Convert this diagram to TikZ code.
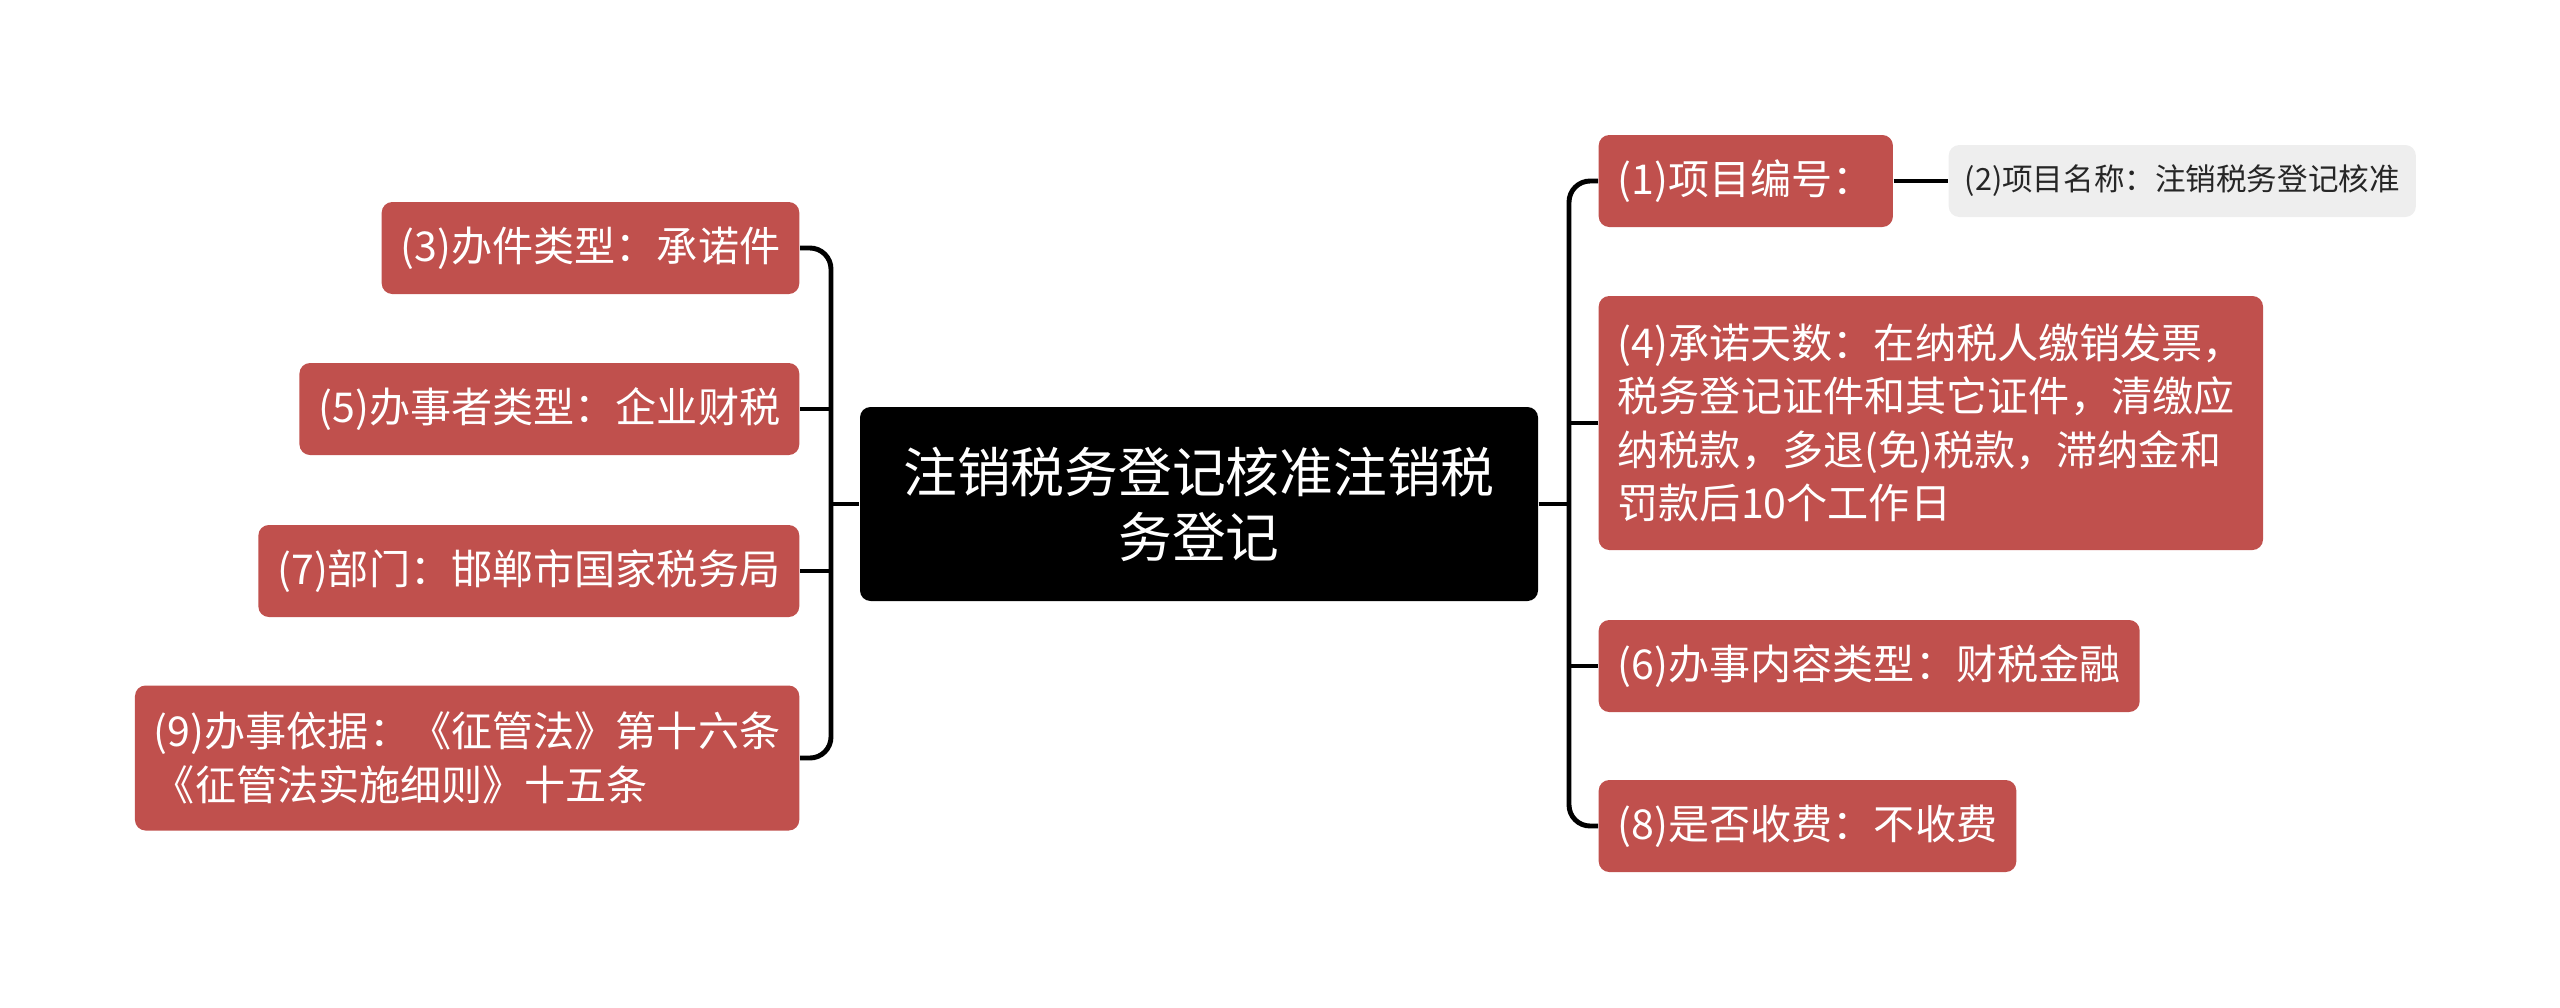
\documentclass[tikz,border=0pt]{standalone}
\usepackage{fontspec}
\setmainfont{Noto Sans CJK SC}
\usepackage{tikz}
\usetikzlibrary{positioning}
\definecolor{topicred}{HTML}{C0504D}
\definecolor{subgrey}{HTML}{EEEEEE}
\tikzset{
    rootnode/.style={
        rectangle, rounded corners=3pt, fill=black, text=white,
        minimum width=6.78cm, minimum height=1.94cm, align=center,
        font=\fontsize{15.3}{18.5}\selectfont
    },
    topic/.style={
        rectangle, rounded corners=3pt, fill=topicred, text=white,
        inner xsep=0.19cm, inner ysep=0pt, minimum height=0.92cm,
        align=left, font=\fontsize{11.7}{15.2}\selectfont
    },
    subtopic/.style={
        rectangle, rounded corners=3pt, fill=subgrey, text=black!85,
        inner xsep=0.16cm, inner ysep=0pt, minimum height=0.72cm,
        font=\fontsize{8.7}{11}\selectfont
    },
    link/.style={
        line width=1.4pt, rounded corners=6pt
    }
}

\begin{document}
\begin{tikzpicture}
    \useasboundingbox (0,0) rectangle (25.6,-10.07);
    % Nodes
    \node[rootnode] (root) at (11.99,-5.04) {注销税务登记核准注销税\\务登记};
    % Left side
    \node[topic, anchor=east] (n3) at (8.00,-2.48) {(3)办件类型：承诺件};
    \node[topic, anchor=east] (n5) at (8.00,-4.09) {(5)办事者类型：企业财税};
    \node[topic, anchor=east] (n7) at (8.00,-5.71) {(7)部门：邯郸市国家税务局};
    \node[topic, anchor=east, minimum height=1.45cm] (n9) at (8.00,-7.58)
        {(9)办事依据：《征管法》第十六条\\《征管法实施细则》十五条};
    % Right side
    \node[topic, anchor=west] (n1) at (15.98,-1.81) {(1)项目编号：};
    \node[subtopic, anchor=west] (n2) at (19.48,-1.81) {(2)项目名称：注销税务登记核准};
    \node[topic, anchor=west, minimum height=2.54cm] (n4) at (15.98,-4.23)
        {(4)承诺天数：在纳税人缴销发票，\\税务登记证件和其它证件，清缴应\\纳税款，多退(免)税款，滞纳金和\\罚款后10个工作日};
    \node[topic, anchor=west] (n6) at (15.98,-6.66) {(6)办事内容类型：财税金融};
    \node[topic, anchor=west] (n8) at (15.98,-8.26) {(8)是否收费：不收费};
    % Trunks
    \coordinate (lt) at (8.31,-5.04);
    \coordinate (rt) at (15.69,-5.04);
    % Left connectors
    \draw[link] (root.west) -- (lt);
    \draw[link] (n3.east) -| (lt) |- (n9.east);
    \draw[link] (n5.east) -- (n5.east -| lt);
    \draw[link] (n7.east) -- (n7.east -| lt);
    % Right connectors
    \draw[link] (root.east) -- (rt);
    \draw[link] (n1.west) -| (rt) |- (n8.west);
    \draw[link] (n4.west) -- (n4.west -| rt);
    \draw[link] (n6.west) -- (n6.west -| rt);
    \draw[link] (n1.east) -- (n2.west);
\end{tikzpicture}
\end{document}
